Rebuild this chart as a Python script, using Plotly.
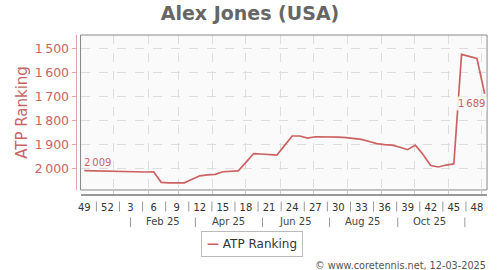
import plotly.graph_objects as go
from datetime import date, datetime, timedelta

# ---------------- data ----------------
player = "Alex Jones (USA)"
series_name = "ATP Ranking"
footer = "© www.coretennis.net, 12-03-2025"

first_week_center = date(2024, 12, 5)   # centre of ISO week 49, 2024
ranking = [2009, 2010, 2009, 2011, 2012, 2014, 2013, 2014, 2015, 2014,
           2058, 2060, 2061, 2060, 2045, 2031, 2027, 2025, 2014, 2012,
           2010, 1975, 1938, 1940, 1942, 1945, 1905, 1865, 1865, 1874,
           1868, 1868, 1869, 1870, 1872, 1875, 1879, 1888, 1897, 1901,
           1903, 1912, 1922, 1903, 1942, 1988, 1994, 1986, 1981, 1525,
           1535, 1542, 1689]
week_dates = [first_week_center + timedelta(weeks=i) for i in range(len(ranking))]

week_labels = [49, 52, 3, 6, 9, 12, 15, 18, 21, 24, 27, 30, 33, 36, 39, 42, 45, 48]
week_label_dates = week_dates[0::3][:len(week_labels)]
week_sep_dates = [d + timedelta(days=11) for d in week_label_dates[:-1]]

month_grid = [date(2025, m, 1) for m in range(1, 13)]
month_labels = ["Feb 25", "Apr 25", "Jun 25", "Aug 25", "Oct 25"]
month_label_dates = [date(2025, m, 15) for m in (2, 4, 6, 8, 10)]
month_sep_dates = [date(2025, m, 16) for m in (1, 3, 5, 7, 9, 11)]

y_ticks = [1500, 1600, 1700, 1800, 1900, 2000]
y_range = [2090, 1444]
x_range = [datetime(2024, 12, 1, 14), datetime(2025, 12, 6, 5)]


def fmt(v):
    return f"{v:,}".replace(",", "\u202f")


# ---------------- style ----------------
W, H = 500, 270
RED = "#c86464"
LINE = "#cd6262"
AX_PINK = "#e2a9a9"
GRID = "#dddddd"
FONT = "DejaVu Sans"

px_x = lambda p: p / W
px_y = lambda p: 1 - p / H

fig = go.Figure()
fig.add_trace(go.Scatter(x=week_dates, y=ranking, mode="lines", name=series_name,
                         line=dict(color=LINE, width=1.7), hoverinfo="x+y"))

fig.update_layout(
    width=W, height=H, margin=dict(l=0, r=0, t=0, b=0),
    paper_bgcolor="white", plot_bgcolor="#fafafa", showlegend=False,
    font=dict(family=FONT),
    title=dict(text="<b>" + player + "</b>", x=0.5, xanchor="center",
               y=px_y(13), yanchor="middle",
               font=dict(size=19, color="#666666", family=FONT)),
    xaxis=dict(type="date", domain=[px_x(78), px_x(487)], anchor="free",
               position=px_y(195), range=x_range, tickmode="array",
               tickvals=week_label_dates, ticktext=[str(w) for w in week_labels],
               showgrid=False, zeroline=False, showline=True,
               linecolor="#999999", linewidth=1.5,
               ticks="outside", ticklen=3, tickcolor="rgba(0,0,0,0)",
               tickfont=dict(size=10, color="#333333"),
               minor=dict(tickmode="array", tickvals=month_grid, showgrid=True,
                          gridcolor=GRID, griddash="dash", gridwidth=1,
                          ticks="inside", ticklen=3, tickcolor="#cccccc")),
    yaxis=dict(domain=[px_y(190), px_y(35)], anchor="free", position=px_x(73),
               range=y_range, autorange=False, tickmode="array",
               tickvals=y_ticks, ticktext=[fmt(v) for v in y_ticks],
               showgrid=True, gridcolor=GRID, griddash="dash", gridwidth=1,
               zeroline=False, showline=True, linecolor=AX_PINK, linewidth=1,
               ticks="outside", ticklen=4, tickcolor=AX_PINK,
               tickfont=dict(size=12.5, color=RED),
               title=dict(text=series_name, standoff=2,
                          font=dict(size=15, color=RED))),
)

# plot-area border
fig.add_shape(type="rect", xref="x domain", yref="y domain", x0=0, x1=1, y0=0, y1=1,
              line=dict(color="#888888", width=1), layer="above")

# separators between week labels and month labels
for d in week_sep_dates:
    fig.add_shape(type="line", xref="x", yref="paper", x0=d, x1=d,
                  y0=px_y(201.5), y1=px_y(211.5), line=dict(color="#999999", width=1))
for d in month_sep_dates:
    fig.add_shape(type="line", xref="x", yref="paper", x0=d, x1=d,
                  y0=px_y(217.5), y1=px_y(227), line=dict(color="#999999", width=1))
for d, t in zip(month_label_dates, month_labels):
    fig.add_annotation(x=d, y=px_y(221.7), xref="x", yref="paper", text=t,
                       showarrow=False, yanchor="middle",
                       font=dict(size=10, color="#444444"))

# first / last value labels
fig.add_annotation(x=week_dates[0], y=ranking[0], text=fmt(ranking[0]), showarrow=False,
                   xanchor="left", yanchor="bottom", xshift=-2, yshift=1,
                   font=dict(size=10, color=RED))
fig.add_annotation(x=week_dates[-1], y=ranking[-1], text=fmt(ranking[-1]), showarrow=False,
                   xanchor="right", yanchor="top", xshift=2, yshift=-2,
                   bgcolor="rgba(250,250,250,0.9)", borderpad=1,
                   font=dict(size=10, color=RED))

# legend box
fig.add_annotation(x=0.5, y=px_y(243.5), xref="paper", yref="paper",
                   text=f"<span style='color:{LINE}'><b>—</b></span> {series_name}",
                   showarrow=False, xanchor="center", yanchor="middle",
                   bordercolor="#bbbbbb", borderwidth=1, borderpad=5, bgcolor="white",
                   font=dict(size=12, color="#333333"))

# footer
fig.add_annotation(x=px_x(488), y=px_y(265), xref="paper", yref="paper", text=footer,
                   showarrow=False, xanchor="right", yanchor="middle",
                   font=dict(size=9.7, color="#555555"))

fig.write_html("out.html")
